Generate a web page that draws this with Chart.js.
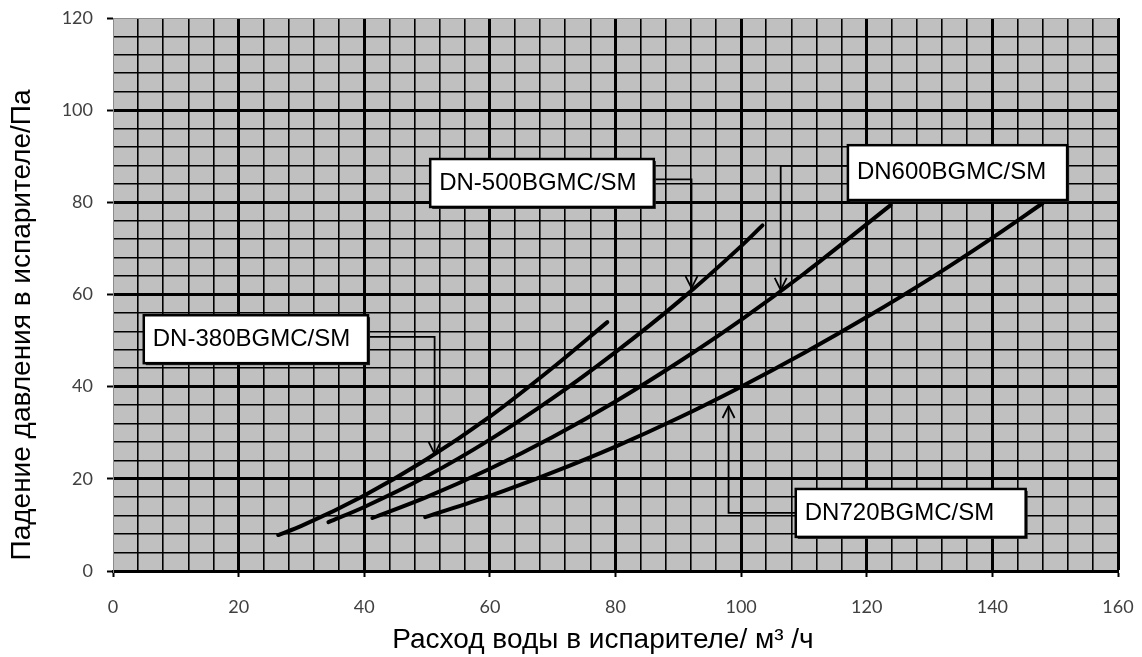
<!DOCTYPE html>
<html>
<head>
<meta charset="utf-8">
<script src="https://cdn.jsdelivr.net/npm/chart.js@4.4.1/dist/chart.umd.min.js"></script>
<style>
  html, body { margin: 0; padding: 0; background: #fff; }
  #wrap { width: 1142px; height: 657px; }
</style>
</head>
<body>
<div id="wrap"><canvas id="lossChart"></canvas></div>
<script>
// values
const flowDN380 = [26.3, 30, 40, 50, 60, 70, 78.7];
const dropDN380 = [7.8, 9.8, 16.4, 24.3, 33.5, 44.1, 54];
const flowDN500 = [34.3, 40, 50, 60, 70, 80, 90, 100, 103.4];
const dropDN500 = [10.6, 13.9, 20.6, 28.5, 37.5, 47.5, 58.4, 70.5, 75];
const flowDN600 = [41.3, 50, 60, 70, 80, 90, 100, 110, 123.8];
const dropDN600 = [11.5, 16.1, 22.2, 29.1, 36.8, 45.3, 54.5, 64.5, 79.4];
const flowDN720 = [49.7, 60, 70, 80, 90, 100, 110, 120, 130, 140, 148];
const dropDN720 = [11.7, 16.3, 21.4, 27.0, 33.2, 40.0, 47.3, 55.1, 63.4, 72.3, 79.8];

const xTitle = "Расход воды в испарителе/ м³ /ч";
const yTitle = "Падение давления в испарителе/Па";

// callout boxes, in data units
const callouts = [
  { text: "DN-500BGMC/SM", x1: 50.5, x2: 86.1, yTop: 89.4, yBot: 79.0, side: "right", lineY: 85.0, lineX: 92.1, tipY: 61.4 },
  { text: "DN600BGMC/SM", x1: 117.0, x2: 151.9, yTop: 92.4, yBot: 80.5, side: "left", lineY: 87.9, lineX: 106.3, tipY: 61.0 },
  { text: "DN-380BGMC/SM", x1: 4.9, x2: 40.6, yTop: 55.5, yBot: 45.1, side: "right", lineY: 50.8, lineX: 51.2, tipY: 25.4 },
  { text: "DN720BGMC/SM", x1: 108.7, x2: 145.3, yTop: 17.8, yBot: 7.4, side: "left", lineY: 12.6, lineX: 98.0, tipY: 35.8 }
];

function toPoints(xs, ys) {
  return xs.map((x, i) => ({ x: x, y: ys[i] }));
}

function curve(label, xs, ys) {
  return {
    label: label,
    data: toPoints(xs, ys),
    showLine: true,
    borderColor: "#000",
    borderWidth: 4,
    borderCapStyle: "round",
    pointRadius: 0,
    cubicInterpolationMode: "monotone"
  };
}

const plotBackground = {
  id: "plotBackground",
  beforeDraw(chart) {
    const { ctx, chartArea: a } = chart;
    ctx.save();
    ctx.fillStyle = "#c0c0c0";
    ctx.fillRect(a.left, a.top, a.right - a.left, a.bottom - a.top);
    ctx.restore();
  }
};

function arrowHead(ctx, x, y, dir) {
  // dir = 1 points down, -1 points up
  ctx.beginPath();
  ctx.moveTo(x - 6, y - dir * 12);
  ctx.lineTo(x, y);
  ctx.lineTo(x + 6, y - dir * 12);
  ctx.stroke();
}

const calloutPlugin = {
  id: "callouts",
  afterDatasetsDraw(chart) {
    const { ctx, scales: { x, y } } = chart;
    ctx.save();
    callouts.forEach(c => {
      const bx1 = x.getPixelForValue(c.x1), bx2 = x.getPixelForValue(c.x2);
      const by1 = y.getPixelForValue(c.yTop), by2 = y.getPixelForValue(c.yBot);
      const ly = y.getPixelForValue(c.lineY);
      const lx = x.getPixelForValue(c.lineX);
      const ty = y.getPixelForValue(c.tipY);
      const sx = c.side === "right" ? bx2 : bx1;

      ctx.strokeStyle = "#000";
      ctx.lineWidth = 1.8;
      ctx.beginPath();
      ctx.moveTo(sx, ly);
      ctx.lineTo(lx, ly);
      ctx.lineTo(lx, ty);
      ctx.stroke();
      arrowHead(ctx, lx, ty, ty > ly ? 1 : -1);

      ctx.fillStyle = "#222";
      ctx.fillRect(bx1 + 2, by1 + 2, bx2 - bx1, by2 - by1);
      ctx.fillStyle = "#fff";
      ctx.fillRect(bx1, by1, bx2 - bx1, by2 - by1);
      ctx.lineWidth = 2.5;
      ctx.strokeRect(bx1, by1, bx2 - bx1, by2 - by1);

      ctx.fillStyle = "#000";
      ctx.font = "24px 'Liberation Sans', Arial, sans-serif";
      ctx.textAlign = "left";
      ctx.textBaseline = "middle";
      ctx.fillText(c.text, bx1 + 9, (by1 + by2) / 2);
    });
    ctx.restore();
  }
};

// axis titles sit slightly off the plot centre in the original
const axisTitles = {
  id: "axisTitles",
  afterDraw(chart) {
    const ctx = chart.ctx;
    ctx.save();
    ctx.fillStyle = "#000";
    ctx.font = "28px 'Liberation Sans', Arial, sans-serif";
    ctx.textAlign = "center";
    ctx.textBaseline = "middle";
    ctx.fillText(xTitle, 603, 640);
    ctx.translate(22, 325);
    ctx.rotate(-Math.PI / 2);
    ctx.fillText(yTitle, 0, 0);
    ctx.restore();
  }
};

const tickFont = { family: "Lato", size: 18 };

new Chart(document.getElementById("lossChart"), {
  type: "scatter",
  data: {
    datasets: [
      curve("DN-380BGMC/SM", flowDN380, dropDN380),
      curve("DN-500BGMC/SM", flowDN500, dropDN500),
      curve("DN600BGMC/SM", flowDN600, dropDN600),
      curve("DN720BGMC/SM", flowDN720, dropDN720)
    ]
  },
  options: {
    responsive: true,
    maintainAspectRatio: false,
    animation: false,
    layout: { padding: { left: 0, top: 18, right: 24, bottom: 0 } },
    plugins: {
      legend: { display: false },
      tooltip: { enabled: false }
    },
    scales: {
      x: {
        type: "linear",
        min: 0,
        max: 160,
        afterFit(scale) { scale.height = 86; scale.paddingLeft = 0; scale.paddingRight = 0; },
        ticks: {
          stepSize: 4,
          autoSkip: false,
          maxRotation: 0,
          padding: 19,
          color: "#404040",
          font: tickFont,
          callback: v => (v % 20 === 0 ? v : "")
        },
        grid: {
          color: c => (c.tick && c.tick.value === 0 ? "#8c8c8c" : "#000"),
          lineWidth: c => {
            const v = c.tick ? c.tick.value : 0;
            if (v === 0) return 1;
            return v % 20 === 0 ? 3 : 1.6;
          },
          tickColor: c => (c.tick && c.tick.value % 20 === 0 ? "#000" : "transparent"),
          tickLength: 6,
          tickWidth: 2
        },
        border: { color: "#000", width: 3 }
      },
      y: {
        type: "linear",
        min: 0,
        max: 120,
        afterFit(scale) { scale.width = 113; scale.paddingTop = 0; scale.paddingBottom = 0; },
        ticks: {
          stepSize: 4,
          autoSkip: false,
          padding: 14,
          color: "#404040",
          font: tickFont,
          callback: v => (v % 20 === 0 ? v : "")
        },
        grid: {
          color: c => (c.tick && c.tick.value === 120 ? "#8c8c8c" : "#000"),
          lineWidth: c => {
            const v = c.tick ? c.tick.value : 0;
            if (v === 120) return 1;
            return v % 20 === 0 ? 3 : 1.6;
          },
          tickColor: c => (c.tick && c.tick.value % 20 === 0 ? "#000" : "transparent"),
          tickLength: 6,
          tickWidth: 2
        },
        border: { color: "#8c8c8c", width: 1 }
      }
    }
  },
  plugins: [plotBackground, calloutPlugin, axisTitles]
});
</script>
</body>
</html>
